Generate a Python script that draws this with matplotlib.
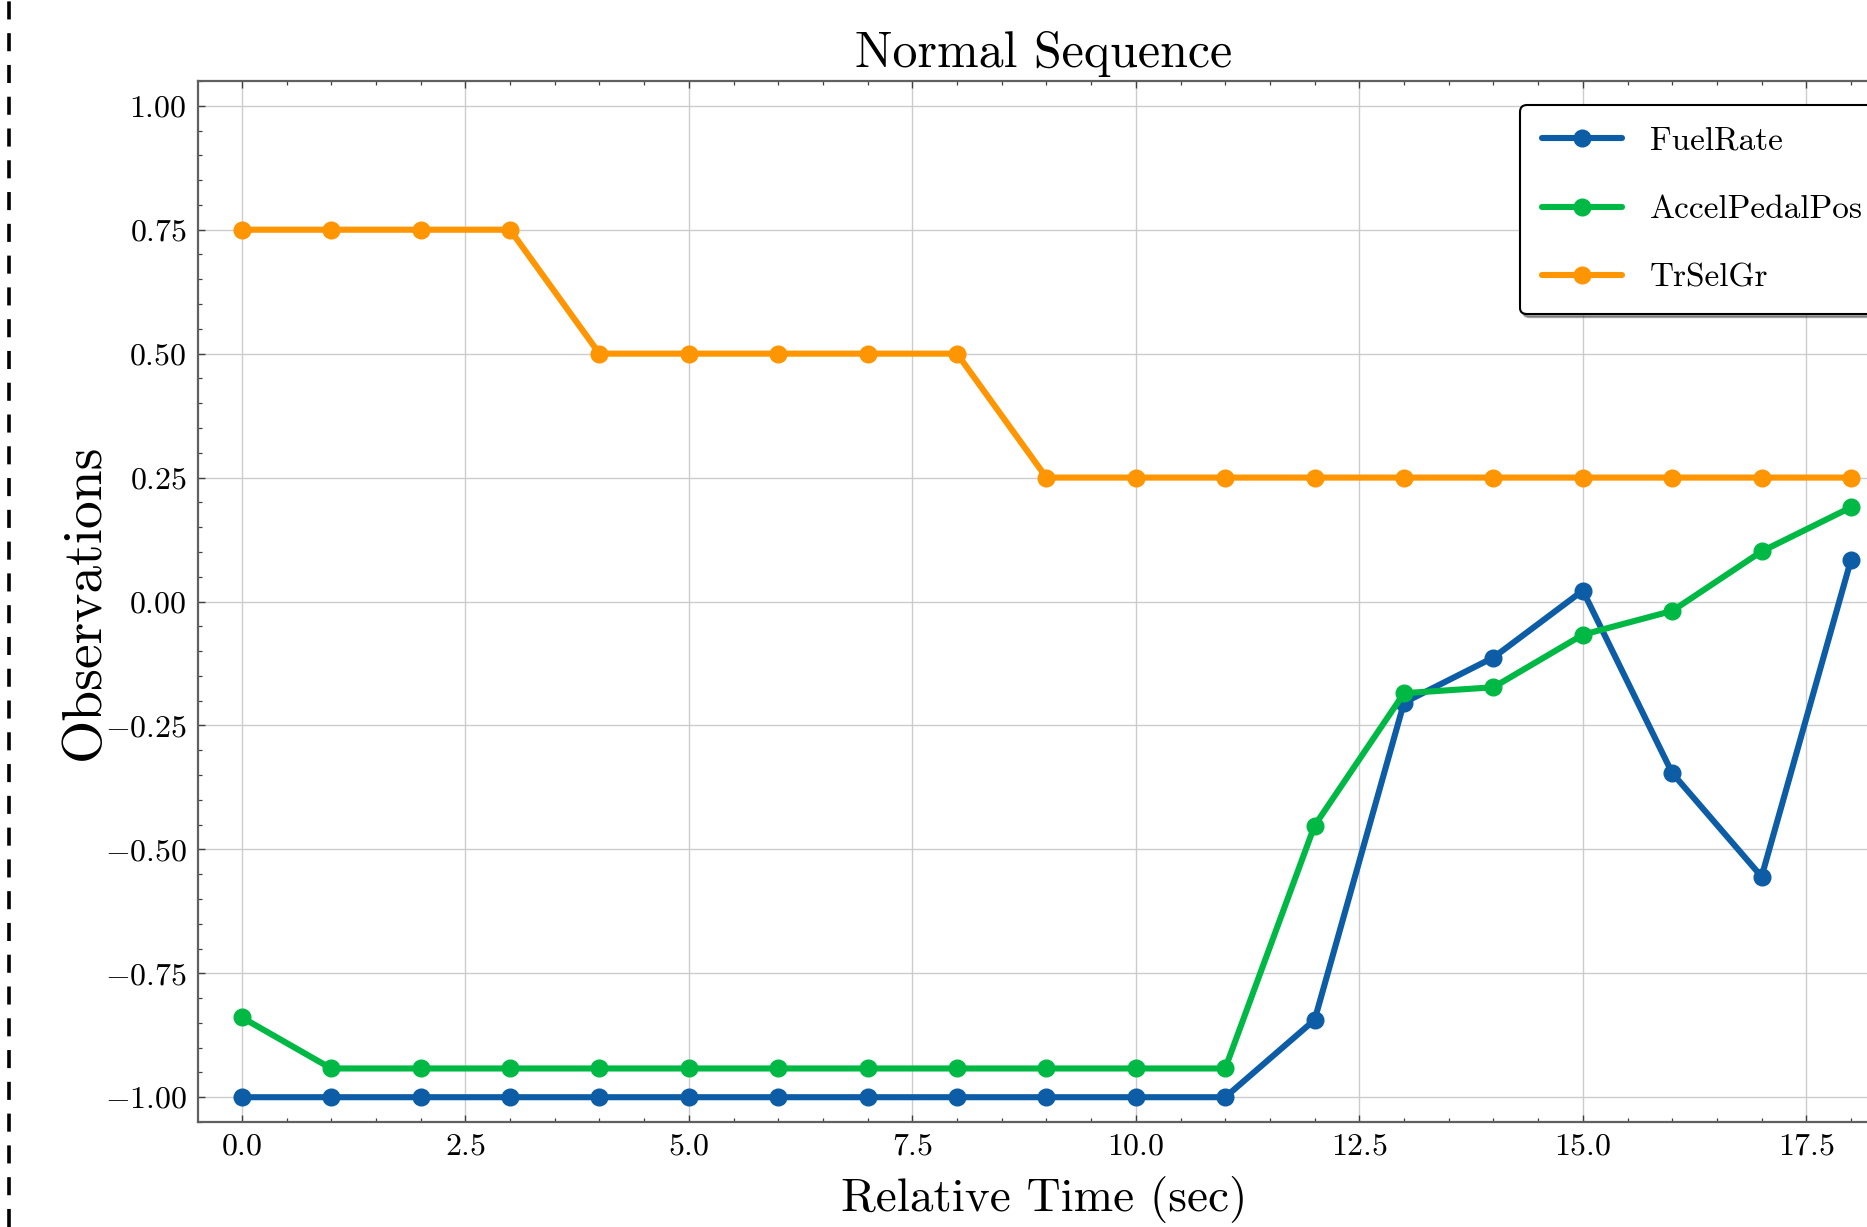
import matplotlib
matplotlib.use("Agg")
import matplotlib.pyplot as plt
from matplotlib.ticker import AutoMinorLocator, MultipleLocator
from matplotlib.lines import Line2D

time_s = list(range(19))
fuel_rate = [-1.0, -1.0, -1.0, -1.0, -1.0, -1.0, -1.0, -1.0, -1.0, -1.0, -1.0, -1.0,
             -0.844, -0.204, -0.113, 0.022, -0.346, -0.555, 0.084]
accel_pedal_pos = [-0.839, -0.942, -0.942, -0.942, -0.942, -0.942, -0.942, -0.942, -0.942,
                   -0.942, -0.942, -0.942, -0.452, -0.185, -0.173, -0.067, -0.019, 0.101, 0.190]
tr_sel_gr = [0.75, 0.75, 0.75, 0.75, 0.5, 0.5, 0.5, 0.5, 0.5,
             0.25, 0.25, 0.25, 0.25, 0.25, 0.25, 0.25, 0.25, 0.25, 0.25]
series_names = ["FuelRate", "AccelPedalPos", "TrSelGr"]
series_colors = ["#0C5DA5", "#00B945", "#FF9500"]
title_text = "Normal Sequence"
x_label = "Relative Time (sec)"
y_label = "Observations"

plt.rcParams["font.family"] = ["cmr10"]
plt.rcParams["mathtext.fontset"] = "cm"
plt.rcParams["axes.formatter.use_mathtext"] = True
plt.rcParams["axes.unicode_minus"] = True

W, H = 1867, 1227
fig = plt.figure(figsize=(W / 100, H / 100), dpi=100)

x_min, x_max = -0.49, 18.43
px_per_unit = 89.4
ax_left = 198 / W
ax_bottom = 1 - 1122 / H
ax_height = (1122 - 81) / H
ax_width = (x_max - x_min) * px_per_unit / W
ax = fig.add_axes([ax_left, ax_bottom, ax_width, ax_height])

for vals, name, col in zip([fuel_rate, accel_pedal_pos, tr_sel_gr], series_names, series_colors):
    ax.plot(time_s, vals, color=col, lw=4.4, marker="o", markersize=12, label=name,
            solid_joinstyle="round", solid_capstyle="round")

ax.set_xlim(x_min, x_max)
ax.set_ylim(-1.05, 1.05)
ax.xaxis.set_major_locator(MultipleLocator(2.5))
ax.yaxis.set_major_locator(MultipleLocator(0.25))
ax.xaxis.set_minor_locator(AutoMinorLocator(5))
ax.yaxis.set_minor_locator(AutoMinorLocator(5))
ax.xaxis.set_major_formatter(matplotlib.ticker.FormatStrFormatter(r"$\mathdefault{%.1f}$"))
ax.yaxis.set_major_formatter(matplotlib.ticker.FuncFormatter(
    lambda v, p: r"$\mathdefault{%s}$" % (("%.2f" % v).replace("-", "\u2212"))))

ax.grid(True, which="major", color="#cccccc", lw=1.0)
ax.set_axisbelow(True)
for sp in ax.spines.values():
    sp.set_color("#606060")
    sp.set_linewidth(1.6)
ax.tick_params(which="both", direction="in", top=True, right=True, color="#404040",
               labelsize=23)
ax.tick_params(which="major", length=5, width=1.0, pad=8)
ax.tick_params(which="minor", length=3, width=0.9)

ax.set_title(title_text, fontsize=36, pad=10)
ax.set_xlabel(x_label, fontsize=34, labelpad=11)
ax.set_ylabel(y_label, fontsize=40, labelpad=-4)

leg = ax.legend(loc="upper left", bbox_to_anchor=(1520 / W, 1 - 105 / H),
                bbox_transform=fig.transFigure, fontsize=24, frameon=True,
                fancybox=True, shadow=True, framealpha=1.0, edgecolor="black",
                handlelength=2.4, handletextpad=0.85, borderpad=0.65,
                labelspacing=1.17, borderaxespad=0)
leg.get_frame().set_linewidth(1.5)

fig.add_artist(Line2D([9 / W, 9 / W], [0, 1], transform=fig.transFigure,
                      color="black", lw=2.6, linestyle=(0, (5, 3.8))))

fig.savefig("out.png", dpi=100)
